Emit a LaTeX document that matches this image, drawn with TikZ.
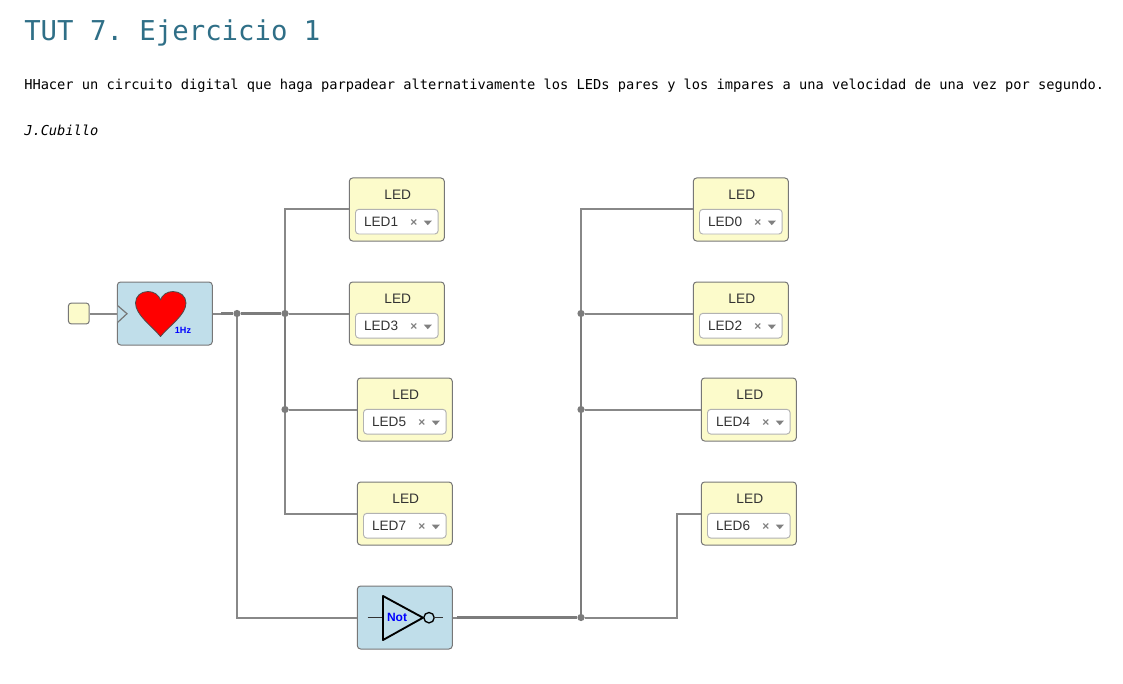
\documentclass[tikz,border=0pt]{standalone}
\usepackage{fontspec}
\setmainfont{Liberation Sans}
\newfontfamily\monof{DejaVu Sans Mono}
\AtBeginDocument{\frenchspacing}
\definecolor{wirec}{HTML}{888888}
\definecolor{wiredk}{HTML}{7C7C7C}
\definecolor{ledbg}{HTML}{FCFBCB}
\definecolor{blockbg}{HTML}{C0DEEA}
\definecolor{edgec}{HTML}{777777}
\definecolor{titlec}{HTML}{2F6F87}
\definecolor{txtc}{HTML}{333333}
\tikzset{
  wire/.style={draw=wirec,line width=1.5pt},
  wirefat/.style={draw=wiredk,line width=2pt},
  dotj/.style={circle,fill=wiredk,inner sep=0pt,minimum size=5.4pt},
  blockbase/.style={rectangle,rounded corners=2.5pt,draw=edgec,line width=.75pt,inner sep=0pt,minimum width=71.25pt,minimum height=47.25pt},
  ledblock/.style={blockbase,fill=ledbg},
  blueblock/.style={blockbase,fill=blockbg},
  selbox/.style={rectangle,rounded corners=2.5pt,draw=black!30,fill=white,line width=.7pt,inner sep=0pt,minimum width=62pt,minimum height=18.5pt},
  ledtitle/.style={font=\fontsize{10.3pt}{12pt}\selectfont,text=txtc,inner sep=0pt},
  ledname/.style={font=\fontsize{10.2pt}{12pt}\selectfont,text=txtc,inner sep=0pt,anchor=west},
  seltimes/.style={font=\fontsize{9pt}{10pt}\selectfont\bfseries,text=black!50,inner sep=0pt},
}
\newcommand{\ledunit}[4]{% name, center x, center y, text
  \node[ledblock] (#1) at (#2,#3) {};
  \node[ledtitle] (#1t) at (#2+1,#3-15) {LED};
  \node[selbox] (#1s) at (#2,#3+12.2) {};
  \node[ledname] (#1n) at (#2-33,#3+11.9) {#4};
  \node[seltimes] (#1x) at (#2+17,#3+13.2) {×};
  \fill[black!50] (#2+27,#3+11.2) -- (#2+35,#3+11.2) -- (#2+31,#3+15.7) -- cycle;
}
\begin{document}
\begin{tikzpicture}[x=0.75pt,y=-0.75pt]
\useasboundingbox (0,0) rectangle (1123,684);
\fill[white] (0,0) rectangle (1123,684);
% texts
\node[anchor=base west,inner sep=0pt,text=titlec,font=\monof\fontsize{20.5pt}{24pt}\selectfont] (title) at (24,41) {TUT 7. Ejercicio 1};
\node[anchor=base west,inner sep=0pt,text=black,font=\monof\fontsize{10.27pt}{12pt}\selectfont] (desc) at (24,89.5) {HHacer un circuito digital que haga parpadear alternativamente los LEDs pares y los impares a una velocidad de una vez por segundo.};
\node[anchor=base west,inner sep=0pt,text=black,font=\monof\itshape\fontsize{10.27pt}{12pt}\selectfont] (auth) at (24,135.5) {J.Cubillo};
% blocks
\node[ledblock,minimum width=15.5pt,minimum height=15.5pt,rounded corners=2pt] (inp) at (78.8,313.5) {};
\node[blueblock] (clk) at (164.8,313.5) {};
\node[blueblock] (inv) at (404.8,617.5) {};
\ledunit{ledA}{396.8}{209.5}{LED1}
\ledunit{ledB}{396.8}{313.5}{LED3}
\ledunit{ledC}{404.8}{409.5}{LED5}
\ledunit{ledD}{404.8}{513.5}{LED7}
\ledunit{ledE}{740.8}{209.5}{LED0}
\ledunit{ledF}{740.8}{313.5}{LED2}
\ledunit{ledG}{748.8}{409.5}{LED4}
\ledunit{ledH}{748.8}{513.5}{LED6}
% junctions
\node[dotj] (j1) at (237,313.5) {};
\node[dotj] (j2) at (285,313.5) {};
\node[dotj] (j3) at (285,409.5) {};
\node[dotj] (j4) at (581,313.5) {};
\node[dotj] (j5) at (581,409.5) {};
\node[dotj] (j6) at (581,617.5) {};
\coordinate (c1) at (285,209.5);
\coordinate (c2) at (285,513.5);
\coordinate (c3) at (237,617.5);
\coordinate (c4) at (581,209.5);
\coordinate (c5) at (677,513.5);
\coordinate (c6) at (677,617.5);
\coordinate (f1) at (221,313.5);
\coordinate (f2) at (457,617.5);
% wires
\draw[wire] (inp.east) -- (clk.west);
\draw[wire] (clk.east) -- (j1);
\draw[wirefat] (f1) -- (j1) -- (j2);
\draw[wire] (j1) -- (c3) -- (inv.west);
\draw[wire] (j2) -- (ledB.west);
\draw[wire] (j2) -- (c1) -- (ledA.west);
\draw[wirefat] (j2) -- (j3);
\draw[wire] (j3) -- (c2) -- (ledD.west);
\draw[wire] (j3) -- (ledC.west);
\draw[wire] (inv.east) -- (f2);
\draw[wirefat] (f2) -- (j6);
\draw[wire] (j6) -- (c6) -- (c5) -- (ledH.west);
\draw[wirefat] (j6) -- (j5);
\draw[wirefat] (j5) -- (j4);
\draw[wire] (j4) -- (c4) -- (ledE.west);
\draw[wire] (j4) -- (ledF.west);
\draw[wire] (j5) -- (ledG.west);
% clock glyph
\draw[draw=edgec,line width=.9pt,fill=blockbg] (117.5,305.5) -- (127,313.7) -- (117.5,322.5);
\draw[draw=black!70,line width=.6pt,fill=red,line join=round]
  (160.5,336.5) .. controls (152,326) and (135.5,315) .. (135.5,303)
  .. controls (135.5,296) and (141,291.5) .. (148,291.5)
  .. controls (154,291.5) and (159,295) .. (160.5,300)
  .. controls (162,295) and (167,291.5) .. (173,291.5)
  .. controls (180,291.5) and (186,296) .. (186,303)
  .. controls (186,315) and (169,326) .. (160.5,336.5) -- cycle;
\node[inner sep=0pt,text={rgb,255:red,0;green,0;blue,255},font=\fontsize{6.8pt}{8pt}\selectfont\bfseries] (hz) at (183,330.5) {1Hz};
% inverter glyph
\draw[black!80,line width=1pt] (367.5,617.7) -- (383,617.7);
\draw[black,line width=1.4pt,line join=round] (383,596) -- (423,617.7) -- (383,640) -- cycle;
\draw[black,line width=1pt] (429,617.7) circle (5.2);
\draw[black!80,line width=1pt] (434.2,617.7) -- (442.5,617.7);
\node[inner sep=0pt,text={rgb,255:red,0;green,0;blue,255},font=\fontsize{9pt}{10pt}\selectfont\bfseries] (nt) at (397,617.7) {Not};
\end{tikzpicture}
\end{document}
